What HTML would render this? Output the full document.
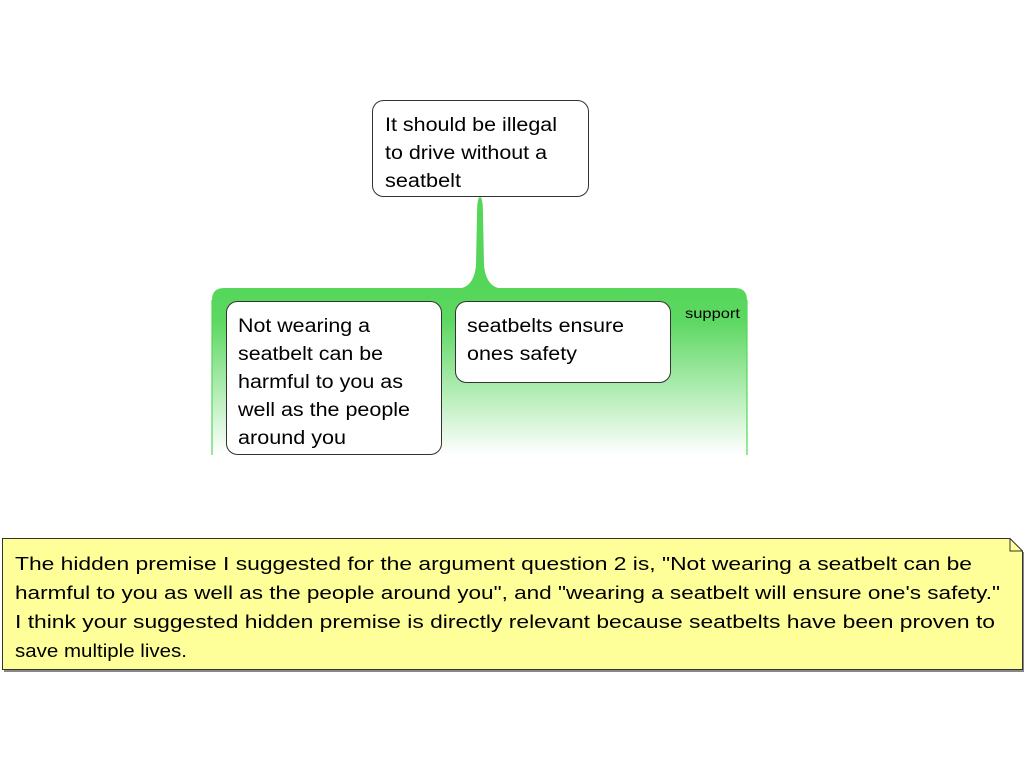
<!DOCTYPE html>
<html><head><style>body{margin:0;background:#fff}</style></head><body>
<svg width="1024" height="768" xmlns="http://www.w3.org/2000/svg" font-family="Liberation Sans, sans-serif">
<defs>
<linearGradient id="g" x1="0" y1="0" x2="0" y2="1">
<stop offset="0" stop-color="#55d65a"/><stop offset="0.2" stop-color="#5dd862"/><stop offset="1" stop-color="#ffffff"/>
</linearGradient>
</defs>
<path d="M212,455 V300 Q212,288 224,288 H735 Q747,288 747,300 V455 Z" fill="url(#g)"/>
<path d="M212,300 V455 M747,300 V455" stroke="#55d65a" stroke-width="1.2" fill="none"/>
<path d="M455,289 Q474,289 476,265 L477,215 Q477,197 480,197 Q483,197 483,215 L484,265 Q486,289 505,289 Z" fill="#55d65a"/>
<rect x="372.5" y="100.5" width="216" height="96" rx="11" fill="#fff" stroke="#333"/>
<g font-size="19" fill="#000">
<text x="385" y="131" textLength="172" lengthAdjust="spacingAndGlyphs">It should be illegal</text>
<text x="385" y="159" textLength="162" lengthAdjust="spacingAndGlyphs">to drive without a</text>
<text x="385" y="187" textLength="76" lengthAdjust="spacingAndGlyphs">seatbelt</text>
</g>
<rect x="226.5" y="301.5" width="215" height="153" rx="11" fill="#fff" stroke="#333"/>
<g font-size="19" fill="#000">
<text x="238" y="332" textLength="132" lengthAdjust="spacingAndGlyphs">Not wearing a</text>
<text x="238" y="360" textLength="145" lengthAdjust="spacingAndGlyphs">seatbelt can be</text>
<text x="238" y="388" textLength="165" lengthAdjust="spacingAndGlyphs">harmful to you as</text>
<text x="238" y="416" textLength="172" lengthAdjust="spacingAndGlyphs">well as the people</text>
<text x="238" y="444" textLength="108" lengthAdjust="spacingAndGlyphs">around you</text>
</g>
<rect x="455.5" y="301.5" width="215" height="81" rx="11" fill="#fff" stroke="#333"/>
<g font-size="19" fill="#000">
<text x="467" y="332" textLength="157" lengthAdjust="spacingAndGlyphs">seatbelts ensure</text>
<text x="467" y="360" textLength="110" lengthAdjust="spacingAndGlyphs">ones safety</text>
</g>
<text x="685" y="318" font-size="14" fill="#000" textLength="55" lengthAdjust="spacingAndGlyphs">support</text>
<path d="M4,671 H1024 V552" stroke="#888" stroke-width="2" fill="none"/>
<path d="M2.5,538.5 H1010 L1022.5,551 V669.5 H2.5 Z" fill="#ffff99" stroke="#333"/>
<path d="M1010,538.5 V551 H1022.5" fill="none" stroke="#333"/>
<g font-size="18" fill="#000">
<text x="15" y="570" textLength="957" lengthAdjust="spacingAndGlyphs">The hidden premise I suggested for the argument question 2 is, "Not wearing a seatbelt can be</text>
<text x="15" y="599" textLength="985" lengthAdjust="spacingAndGlyphs">harmful to you as well as the people around you", and "wearing a seatbelt will ensure one's safety."</text>
<text x="15" y="628" textLength="980" lengthAdjust="spacingAndGlyphs">I think your suggested hidden premise is directly relevant because seatbelts have been proven to</text>
<text x="15" y="657" textLength="172" lengthAdjust="spacingAndGlyphs">save multiple lives.</text>
</g>
</svg>
</body></html>
